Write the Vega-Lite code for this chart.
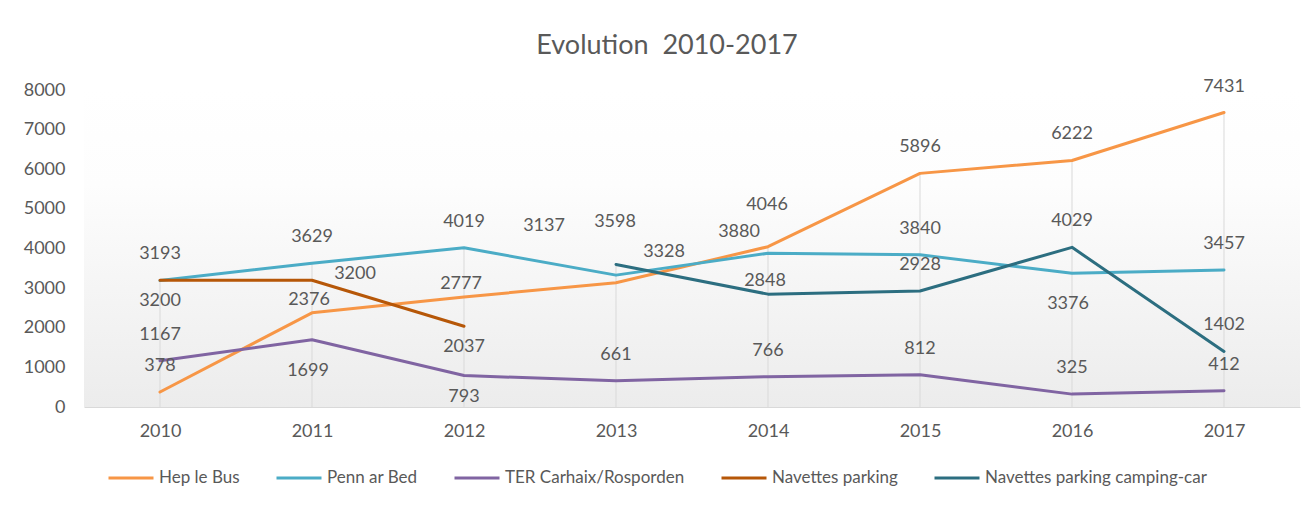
{
  "$schema": "https://vega.github.io/schema/vega-lite/v6.json",
  "width": 1216,
  "height": 317,
  "autosize": {"type": "none"},
  "padding": {"left": 84, "top": 90, "right": 5, "bottom": 98},
  "background": "#ffffff",
  "title": {
    "text": "Evolution\u00a0 2010-2017",
    "font": "Lato",
    "fontSize": 27,
    "fontWeight": "normal",
    "color": "#595959",
    "anchor": "middle",
    "dx": -25,
    "offset": 18
  },
  "config": {
    "view": {"stroke": null},
    "font": "Lato",
    "axis": {"labelFont": "Lato", "labelFontSize": 18, "labelColor": "#595959", "grid": false, "ticks": false, "title": null, "labelOverlap": false},
    "axisQuantitative": {"labelOverlap": false, "tickCount": 9},
    "axisLeft": {"labelOverlap": false},
    "axisY": {"labelOverlap": false, "tickCount": 9},
    "legend": {"labelFont": "Lato", "labelFontSize": 17, "labelColor": "#595959", "labelLimit": 0}
  },
  "data": {
    "values": [
      {"year": "2010", "series": "Hep le Bus", "value": 378},
      {"year": "2011", "series": "Hep le Bus", "value": 2376},
      {"year": "2012", "series": "Hep le Bus", "value": 2777},
      {"year": "2013", "series": "Hep le Bus", "value": 3137},
      {"year": "2014", "series": "Hep le Bus", "value": 4046},
      {"year": "2015", "series": "Hep le Bus", "value": 5896},
      {"year": "2016", "series": "Hep le Bus", "value": 6222},
      {"year": "2017", "series": "Hep le Bus", "value": 7431},
      {"year": "2010", "series": "Penn ar Bed", "value": 3193},
      {"year": "2011", "series": "Penn ar Bed", "value": 3629},
      {"year": "2012", "series": "Penn ar Bed", "value": 4019},
      {"year": "2013", "series": "Penn ar Bed", "value": 3328},
      {"year": "2014", "series": "Penn ar Bed", "value": 3880},
      {"year": "2015", "series": "Penn ar Bed", "value": 3840},
      {"year": "2016", "series": "Penn ar Bed", "value": 3376},
      {"year": "2017", "series": "Penn ar Bed", "value": 3457},
      {"year": "2010", "series": "TER Carhaix/Rosporden", "value": 1167},
      {"year": "2011", "series": "TER Carhaix/Rosporden", "value": 1699},
      {"year": "2012", "series": "TER Carhaix/Rosporden", "value": 793},
      {"year": "2013", "series": "TER Carhaix/Rosporden", "value": 661},
      {"year": "2014", "series": "TER Carhaix/Rosporden", "value": 766},
      {"year": "2015", "series": "TER Carhaix/Rosporden", "value": 812},
      {"year": "2016", "series": "TER Carhaix/Rosporden", "value": 325},
      {"year": "2017", "series": "TER Carhaix/Rosporden", "value": 412},
      {"year": "2010", "series": "Navettes parking", "value": 3200},
      {"year": "2011", "series": "Navettes parking", "value": 3200},
      {"year": "2012", "series": "Navettes parking", "value": 2037},
      {"year": "2013", "series": "Navettes parking camping-car", "value": 3598},
      {"year": "2014", "series": "Navettes parking camping-car", "value": 2848},
      {"year": "2015", "series": "Navettes parking camping-car", "value": 2928},
      {"year": "2016", "series": "Navettes parking camping-car", "value": 4029},
      {"year": "2017", "series": "Navettes parking camping-car", "value": 1402}
    ]
  },
  "encoding": {
    "x": {
      "field": "year",
      "type": "ordinal",
      "scale": {"type": "point", "padding": 0.5},
      "axis": {"labelAngle": 0, "domainColor": "#d9d9d9", "domainWidth": 1, "labelPadding": 15}
    }
  },
  "layer": [
    {
      "data": {"values": [{}]},
      "mark": {
        "type": "rect",
        "color": {
          "gradient": "linear",
          "x1": 0, "y1": 0, "x2": 0, "y2": 1,
          "stops": [
            {"offset": 0, "color": "#ffffff"},
            {"offset": 0.3, "color": "#fdfdfd"},
            {"offset": 1, "color": "#ececec"}
          ]
        }
      },
      "encoding": {
        "x": null,
        "y": {
          "datum": 8000,
          "type": "quantitative",
          "scale": {"domain": [0, 8000], "nice": false},
          "axis": {"tickCount": 9, "format": "d", "domain": false, "labelPadding": 19, "labelOverlap": false}
        },
        "y2": {"datum": 0}
      }
    },
    {
      "transform": [{"aggregate": [{"op": "max", "field": "value", "as": "maxv"}], "groupby": ["year"]}],
      "mark": {"type": "rule", "color": "#d9d9d9", "strokeWidth": 1},
      "encoding": {
        "y": {"field": "maxv", "type": "quantitative"},
        "y2": {"datum": 0}
      }
    },
    {
      "mark": {"type": "line", "strokeWidth": 3, "strokeCap": "round", "strokeJoin": "round"},
      "encoding": {
        "y": {"field": "value", "type": "quantitative"},
        "color": {
          "field": "series",
          "type": "nominal",
          "scale": {
            "domain": ["Hep le Bus", "Penn ar Bed", "TER Carhaix/Rosporden", "Navettes parking", "Navettes parking camping-car"],
            "range": ["#F79646", "#4BACC6", "#8064A2", "#B65708", "#2C6E80"]
          },
          "legend": {
            "title": null,
            "orient": "none",
            "direction": "horizontal",
            "legendX": 23,
            "legendY": 364,
            "symbolType": "stroke",
            "symbolSize": 2025,
            "symbolStrokeWidth": 3,
            "labelOffset": 4,
            "columnPadding": 30,
            "labelLimit": 0
          }
        }
      }
    },
    {
      "transform": [{"filter": "indexof(['Hep le Bus|2011','Hep le Bus|2012','Navettes parking camping-car|2014','Navettes parking|2010','Navettes parking|2012','TER Carhaix/Rosporden|2012','TER Carhaix/Rosporden|2011','Penn ar Bed|2016','Navettes parking camping-car|2013','Hep le Bus|2014','Navettes parking|2011','Hep le Bus|2013','Penn ar Bed|2013','Penn ar Bed|2014'], datum.series + '|' + datum.year) < 0"}],
      "mark": {"type": "text", "font": "Lato", "fontSize": 18, "color": "#595959", "baseline": "middle", "dy": -26},
      "encoding": {"y": {"field": "value", "type": "quantitative"}, "text": {"field": "value", "type": "quantitative"}}
    },
    {
      "transform": [{"filter": "indexof(['Hep le Bus|2011','Hep le Bus|2012','Navettes parking camping-car|2014'], datum.series + '|' + datum.year) >= 0"}],
      "mark": {"type": "text", "font": "Lato", "fontSize": 18, "color": "#595959", "baseline": "middle", "dy": -13, "dx": -3},
      "encoding": {"y": {"field": "value", "type": "quantitative"}, "text": {"field": "value", "type": "quantitative"}}
    },
    {
      "transform": [{"filter": "indexof(['Navettes parking|2010','Navettes parking|2012','TER Carhaix/Rosporden|2012'], datum.series + '|' + datum.year) >= 0"}],
      "mark": {"type": "text", "font": "Lato", "fontSize": 18, "color": "#595959", "baseline": "middle", "dy": 21},
      "encoding": {"y": {"field": "value", "type": "quantitative"}, "text": {"field": "value", "type": "quantitative"}}
    },
    {
      "transform": [{"filter": "indexof(['TER Carhaix/Rosporden|2011','Penn ar Bed|2016'], datum.series + '|' + datum.year) >= 0"}],
      "mark": {"type": "text", "font": "Lato", "fontSize": 18, "color": "#595959", "baseline": "middle", "dy": 31, "dx": -4},
      "encoding": {"y": {"field": "value", "type": "quantitative"}, "text": {"field": "value", "type": "quantitative"}}
    },
    {
      "transform": [{"filter": "indexof(['Navettes parking camping-car|2013','Hep le Bus|2014'], datum.series + '|' + datum.year) >= 0"}],
      "mark": {"type": "text", "font": "Lato", "fontSize": 18, "color": "#595959", "baseline": "middle", "dy": -42, "dx": -1},
      "encoding": {"y": {"field": "value", "type": "quantitative"}, "text": {"field": "value", "type": "quantitative"}}
    },
    {
      "transform": [{"filter": "datum.series == 'Navettes parking' && datum.year == '2011'"}],
      "mark": {"type": "text", "font": "Lato", "fontSize": 18, "color": "#595959", "baseline": "middle", "dy": -6, "dx": 43},
      "encoding": {"y": {"field": "value", "type": "quantitative"}, "text": {"field": "value", "type": "quantitative"}}
    },
    {
      "transform": [{"filter": "datum.series == 'Hep le Bus' && datum.year == '2013'"}],
      "mark": {"type": "text", "font": "Lato", "fontSize": 18, "color": "#595959", "baseline": "middle", "dy": -57, "dx": -72},
      "encoding": {"y": {"field": "value", "type": "quantitative"}, "text": {"field": "value", "type": "quantitative"}}
    },
    {
      "transform": [{"filter": "datum.series == 'Penn ar Bed' && datum.year == '2013'"}],
      "mark": {"type": "text", "font": "Lato", "fontSize": 18, "color": "#595959", "baseline": "middle", "dy": -23, "dx": 48},
      "encoding": {"y": {"field": "value", "type": "quantitative"}, "text": {"field": "value", "type": "quantitative"}}
    },
    {
      "transform": [{"filter": "datum.series == 'Penn ar Bed' && datum.year == '2014'"}],
      "mark": {"type": "text", "font": "Lato", "fontSize": 18, "color": "#595959", "baseline": "middle", "dy": -21, "dx": -29},
      "encoding": {"y": {"field": "value", "type": "quantitative"}, "text": {"field": "value", "type": "quantitative"}}
    }
  ]
}
